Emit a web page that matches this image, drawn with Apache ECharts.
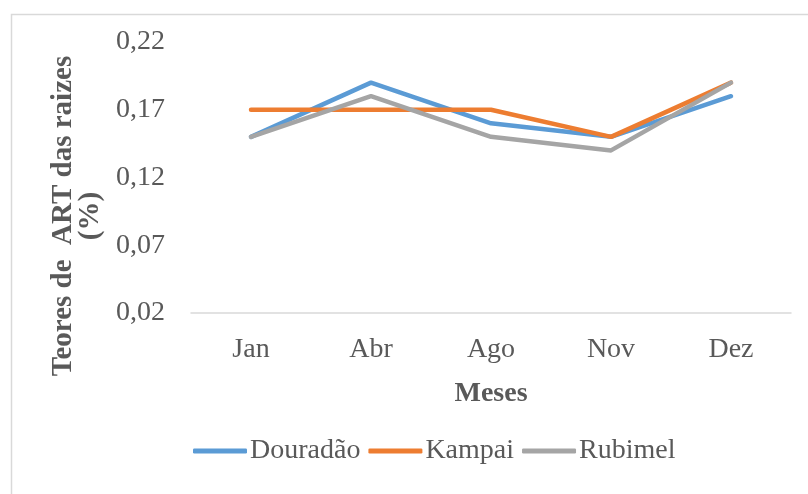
<!DOCTYPE html>
<html>
<head>
<meta charset="utf-8">
<script src="https://cdn.jsdelivr.net/npm/echarts@6/dist/echarts.min.js"></script>
<style>html,body{margin:0;padding:0;background:#fff;}#c{width:808px;height:494px;}</style>
</head>
<body>
<div id="c"></div>
<script>
const categories = ['Jan', 'Abr', 'Ago', 'Nov', 'Dez'];
const douradao = [0.15, 0.19, 0.16, 0.15, 0.18];
const kampai = [0.17, 0.17, 0.17, 0.15, 0.19];
const rubimel = [0.15, 0.18, 0.15, 0.14, 0.19];
const seriesNames = ['Douradão', 'Kampai', 'Rubimel'];
const yTicks = { min: 0.02, max: 0.22, step: 0.05 };

const FONT = "'Liberation Serif', 'Times New Roman', serif";
const TXT = '#595959';
const colors = ['#5B9BD5', '#ED7D31', '#A5A5A5'];

const chart = echarts.init(document.getElementById('c'), null, { renderer: 'canvas' });
function mk(name, data, color) {
  return {
    name: name, type: 'line', data: data, symbol: 'none', smooth: false,
    lineStyle: { color: color, width: 4.5, cap: 'round', join: 'round' },
    itemStyle: { color: color }
  };
}
chart.setOption({
  animation: false,
  backgroundColor: '#fff',
  color: colors,
  grid: { left: 191, right: 17, top: 42, bottom: 181, containLabel: false },
  legend: {
    left: 188, top: 432,
    itemWidth: 54, itemHeight: 5, itemGap: 8,
    icon: 'roundRect',
    textStyle: { fontFamily: FONT, fontSize: 28, color: TXT, padding: [0, 0, 0, -2] },
    data: seriesNames
  },
  xAxis: {
    type: 'category', data: categories, boundaryGap: true,
    axisLine: { lineStyle: { color: '#D9D9D9', width: 1.5 } },
    axisTick: { show: false },
    axisLabel: { fontFamily: FONT, fontSize: 28, color: TXT, margin: 23 },
    name: 'Meses', nameLocation: 'middle', nameGap: 67,
    nameTextStyle: { fontFamily: FONT, fontSize: 28, fontWeight: 'bold', color: TXT }
  },
  yAxis: {
    type: 'value', min: yTicks.min, max: yTicks.max, interval: yTicks.step,
    axisLine: { show: false }, axisTick: { show: false },
    splitLine: { show: false },
    axisLabel: {
      fontFamily: FONT, fontSize: 28, color: TXT, margin: 26,
      formatter: v => v.toFixed(2).replace('.', ',')
    }
  },
  graphic: [
    { type: 'rect', left: 9, top: 12, shape: { width: 830, height: 520 }, silent: true, z: -10,
      style: { fill: 'none', stroke: '#D9D9D9', lineWidth: 1.5 } },
    { type: 'text', x: 77, y: 216, rotation: Math.PI / 2,
      style: { text: 'Teores de  ART das raizes\n(%)', fontFamily: FONT, fontSize: 29, fontWeight: 'bold',
        fill: TXT, align: 'center', verticalAlign: 'middle', lineHeight: 27 } }
  ],
  series: [
    mk(seriesNames[0], douradao, colors[0]),
    mk(seriesNames[1], kampai, colors[1]),
    mk(seriesNames[2], rubimel, colors[2])
  ]
});
</script>
</body>
</html>
